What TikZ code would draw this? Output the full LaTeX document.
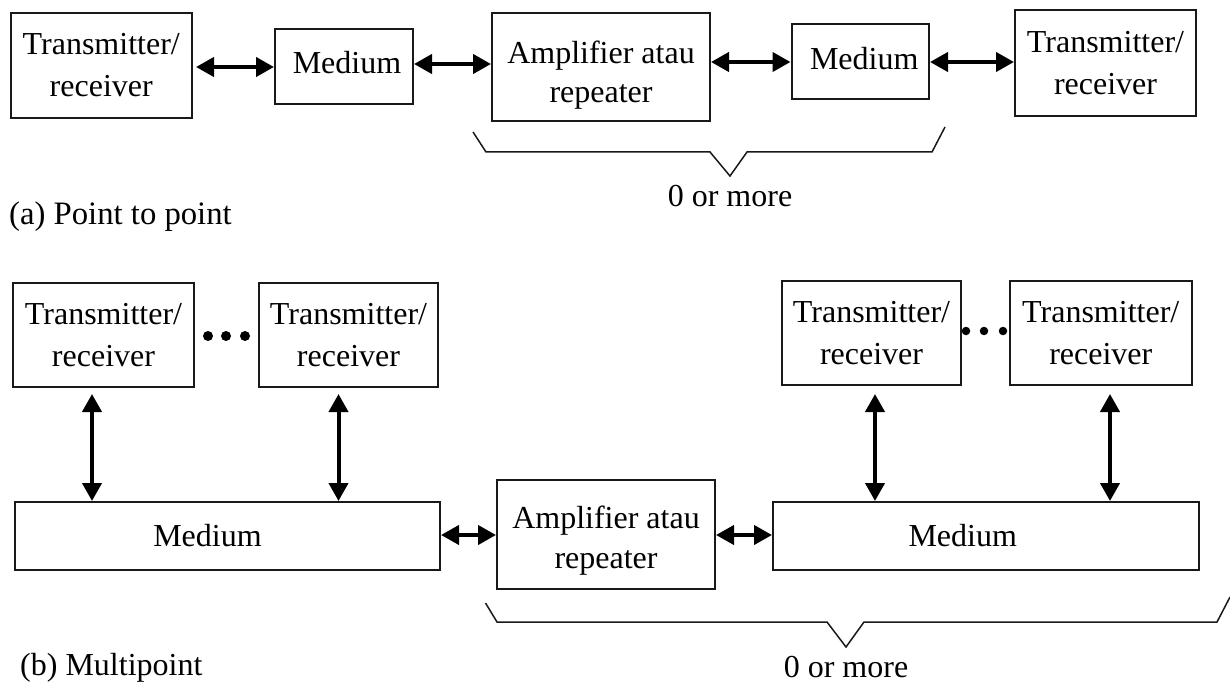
\documentclass[tikz,border=0pt]{standalone}
\usepackage{fontspec}
\setmainfont{Liberation Serif}
\usetikzlibrary{arrows.meta}
\renewcommand\arraystretch{0.95}
\newcommand\twolines[3]{\raisebox{#1}[0pt][0pt]{\begin{tabular}{@{}c@{}}#2\\#3\end{tabular}}}
\newcommand\oneline[2]{\raisebox{#1}[0pt][0pt]{#2}}
\tikzset{
  x=1pt,y=-1pt,
  boxnode/.style={draw=black!90,line width=2pt,inner sep=0pt,align=center,font=\fontsize{32}{42}\selectfont},
  dbl/.style={line width=4pt,black,{Triangle[length=18pt,width=19pt]}-{Triangle[length=18pt,width=19pt]}},
  bracket/.style={draw=black!90,line width=1.5pt},
  lab/.style={inner sep=0pt,font=\fontsize{32}{41}\selectfont},
  dotbig/.style={circle,fill=black,inner sep=0pt,minimum size=10pt},
  dotsmall/.style={circle,fill=black,inner sep=0pt,minimum size=8.5pt}
}
\begin{document}
\begin{tikzpicture}
\useasboundingbox (0,0) rectangle (1230,684);
% (a)
\node[boxnode,minimum width=181.5pt,minimum height=105pt] (t1) at (101.25,65.5) {Transmitter/\\receiver};
\node[boxnode,minimum width=138pt,minimum height=75pt] (m1) at (344,66.5) {\oneline{-7.5pt}{\hspace*{6pt}Medium}};
\node[boxnode,minimum width=218pt,minimum height=108pt] (a1) at (601,67) {\twolines{-14.2pt}{Amplifier atau}{repeater}};
\node[boxnode,minimum width=137.5pt,minimum height=75pt] (m2) at (860.25,61.5) {\oneline{-8pt}{\hspace*{8pt}Medium}};
\node[boxnode,minimum width=181pt,minimum height=106pt] (t2) at (1105.5,63) {Transmitter/\\receiver};
\draw[dbl,shorten <=3pt] ([yshift=-1.5pt]t1.east) -- ([yshift=-.5pt]m1.west);
\draw[dbl] ([yshift=2.5pt]m1.east) -- ([yshift=3pt]a1.west);
\draw[dbl] ([yshift=5pt]a1.east) -- ([yshift=-.5pt]m2.west);
\draw[dbl] ([yshift=-.5pt]m2.east) -- ([yshift=1pt]t2.west);
\coordinate (b1s) at (473,132);
\coordinate (b1e) at (945,127);
\draw[bracket] (b1s) -- (486,152) -- (710,152) -- (730,176) -- (747,152) -- (932,152) -- (b1e);
\node[lab] (more1) at (730,196) {0 or more};
\node[lab,anchor=base west,font=\fontsize{32.7}{41}\selectfont] (capa) at (9,225) {(a) Point to point};
% (b)
\node[boxnode,minimum width=181pt,minimum height=104pt] (t3) at (103.5,335) {Transmitter/\\receiver};
\node[boxnode,minimum width=179pt,minimum height=104pt] (t4) at (348.5,335) {Transmitter/\\receiver};
\node[boxnode,minimum width=425pt,minimum height=68pt] (m3) at (227.5,536) {Medium\hspace*{40pt}};
\node[boxnode,minimum width=218pt,minimum height=109pt] (a2) at (606,534.5) {\twolines{-12.6pt}{Amplifier atau}{repeater}};
\node[boxnode,minimum width=425.5pt,minimum height=68pt] (m4) at (985.75,536) {Medium\hspace*{46pt}};
\node[boxnode,minimum width=179pt,minimum height=104pt] (t5) at (871.5,333) {Transmitter/\\receiver};
\node[boxnode,minimum width=181.5pt,minimum height=104pt] (t6) at (1100.75,333) {Transmitter/\\receiver};
\node[dotbig] (d1) at (208,336) {};
\node[dotbig] (d2) at (226,336) {};
\node[dotbig] (d3) at (245,336) {};
\node[dotsmall] (d4) at (966,331) {};
\node[dotsmall] (d5) at (984,331) {};
\node[dotsmall] (d6) at (1003,331) {};
\draw[dbl,shorten <=6pt] ([xshift=-11.5pt]t3.south) -- ([xshift=-135.5pt]m3.north);
\draw[dbl,shorten <=6pt] ([xshift=-10pt]t4.south) -- ([xshift=111pt]m3.north);
\draw[dbl,shorten <=8pt] ([xshift=3.5pt]t5.south) -- ([xshift=-110.75pt]m4.north);
\draw[dbl,shorten <=8pt] ([xshift=9.25pt]t6.south) -- ([xshift=124.25pt]m4.north);
\draw[dbl] ([yshift=1pt]m3.east) -- ([yshift=-.5pt]a2.west);
\draw[dbl] ([yshift=-.5pt]a2.east) -- ([yshift=1pt]m4.west);
\coordinate (b2s) at (485.5,603);
\coordinate (b2e) at (1230,597);
\draw[bracket] (b2s) -- (497,622) -- (827,622) -- (846,647) -- (864,622) -- (1217,622) -- (b2e);
\node[lab,anchor=base] (more2) at (846,677) {0 or more};
\node[lab,anchor=base west] (capb) at (20,675) {(b) Multipoint};
\end{tikzpicture}
\end{document}
